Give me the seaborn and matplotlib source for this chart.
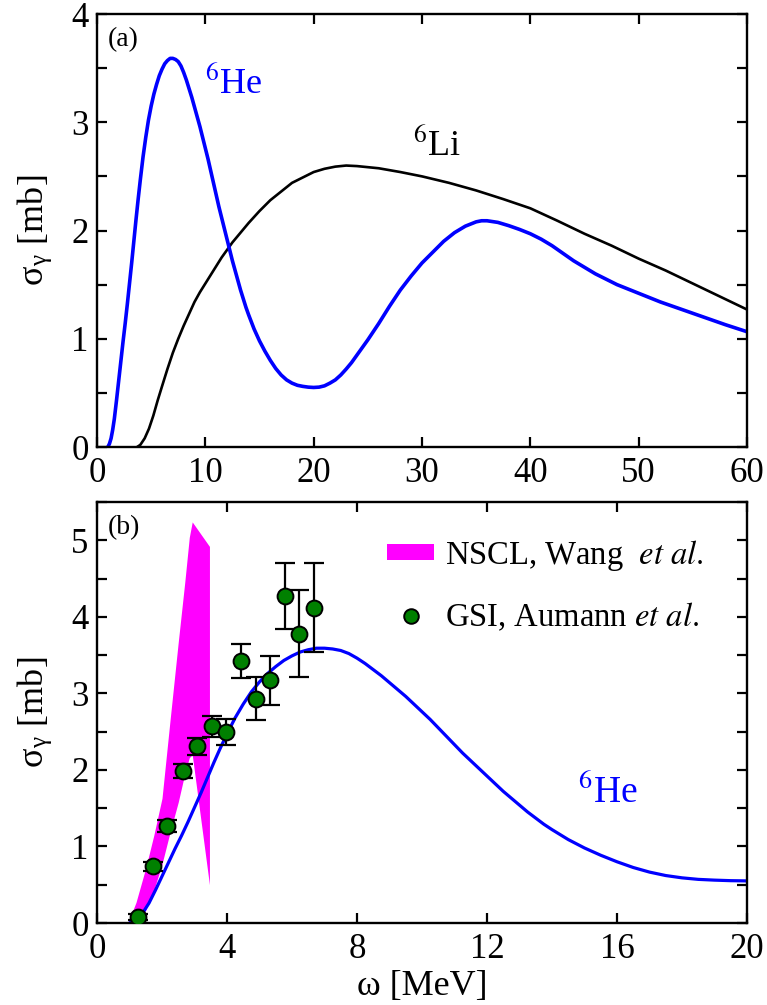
import matplotlib
matplotlib.use("Agg")
import matplotlib.pyplot as plt
import seaborn as sns
from matplotlib.patches import Patch
from matplotlib.lines import Line2D
from matplotlib.ticker import MultipleLocator

# ---- photo-absorption cross sections (mb) vs excitation energy (MeV) ----
he6_omega = [1.0, 1.15, 1.3, 1.45, 1.6, 1.8, 2.0, 2.2, 2.4, 2.6, 2.8, 3.0, 3.2, 3.4,
             3.6, 3.8, 4.0, 4.25, 4.5, 4.75, 5.0, 5.25, 5.5, 5.75, 6.0, 6.25, 6.5,
             6.75, 7.0, 7.25, 7.5, 7.75, 8.0, 8.25, 8.5, 8.75, 9.0, 9.25, 9.5,
             9.75, 10.0, 10.25, 10.5, 10.75, 11.0, 11.25, 11.5, 11.75, 12.0, 12.25,
             12.5, 12.75, 13.0, 13.25, 13.5, 13.75, 14.0, 14.5, 15.0, 15.5, 16.0,
             16.5, 17.0, 17.5, 18.0, 18.5, 19.0, 19.5, 20.0, 20.5, 21.0, 21.5,
             22.0, 22.5, 23.0, 23.5, 24.0, 24.5, 25.0, 25.5, 26.0, 26.5, 27.0,
             27.5, 28.0, 29.0, 30.0, 31.0, 32.0, 33.0, 34.0, 35.0, 35.5, 36.0,
             37.0, 38.0, 39.0, 40.0, 41.0, 42.0, 43.0, 44.0, 45.0, 46.0, 47.0,
             48.0, 49.0, 50.0, 52.0, 54.0, 56.0, 58.0, 60.0]
he6_sigma = [0.00, 0.03, 0.08, 0.16, 0.26, 0.43, 0.61, 0.79, 0.97, 1.14, 1.32, 1.51,
             1.70, 1.90, 2.10, 2.29, 2.47, 2.68, 2.86, 3.02, 3.15, 3.26, 3.35, 3.43,
             3.49, 3.54, 3.57, 3.59, 3.59, 3.58, 3.56, 3.52, 3.46, 3.39, 3.31, 3.23,
             3.14, 3.05, 2.96, 2.86, 2.76, 2.66, 2.55, 2.44, 2.33, 2.22, 2.12, 2.02,
             1.92, 1.82, 1.72, 1.63, 1.54, 1.45, 1.37, 1.29, 1.22, 1.09, 0.98, 0.885,
             0.80, 0.725, 0.665, 0.62, 0.59, 0.57, 0.56, 0.553, 0.55, 0.553, 0.565,
             0.59, 0.62, 0.665, 0.72, 0.78, 0.85, 0.92, 0.99, 1.065, 1.14, 1.22,
             1.30, 1.375, 1.45, 1.58, 1.70, 1.80, 1.90, 1.98, 2.04, 2.08, 2.09,
             2.09, 2.075, 2.045, 2.01, 1.97, 1.92, 1.86, 1.79, 1.72, 1.66, 1.60,
             1.55, 1.50, 1.46, 1.42, 1.34, 1.27, 1.20, 1.13, 1.065]

li6_omega = [3.7, 4.0, 4.4, 4.8, 5.2, 5.6, 6.0, 6.5, 7.0, 7.5, 8.0, 8.5, 9.0, 9.5,
             10.0, 10.5, 11.0, 11.5, 12.0, 12.5, 13.0, 13.5, 14.0, 15.0, 16.0,
             17.0, 18.0, 19.0, 20.0, 21.0, 22.0, 23.0, 24.0, 25.0, 26.0, 28.0,
             30.0, 32.5, 35.0, 37.5, 40.0, 42.5, 45.0, 47.5, 50.0, 52.5, 55.0,
             57.5, 60.0]
li6_sigma = [0.00, 0.02, 0.08, 0.17, 0.29, 0.43, 0.56, 0.72, 0.87, 1.00, 1.12,
             1.23, 1.34, 1.43, 1.51, 1.59, 1.67, 1.75, 1.82, 1.89, 1.95, 2.01,
             2.07, 2.18, 2.28, 2.36, 2.44, 2.49, 2.54, 2.57, 2.59, 2.60, 2.595,
             2.585, 2.575, 2.54, 2.50, 2.44, 2.37, 2.29, 2.205, 2.09, 1.97, 1.86,
             1.74, 1.63, 1.51, 1.39, 1.27]

# NSCL (Wang et al.) band: lower / upper bounds
nscl_omega = [0.95, 1.2, 1.5, 1.75, 2.0, 2.25, 2.5, 2.7, 2.84, 2.93, 3.46]
nscl_lower = [0.0, 0.0, 0.17, 0.43, 0.77, 1.19, 1.58, 1.95, 2.16, 2.20, 0.50]
nscl_upper = [0.0, 0.27, 0.72, 1.15, 1.63, 2.66, 3.67, 4.45, 5.04, 5.24, 4.92]

# GSI (Aumann et al.) data points
gsi_omega = [1.27, 1.73, 2.16, 2.64, 3.09, 3.54, 3.97, 4.43, 4.88, 5.32, 5.78, 6.23, 6.68]
gsi_sigma = [0.08, 0.74, 1.27, 1.99, 2.31, 2.57, 2.50, 3.42, 2.93, 3.17, 4.27, 3.78, 4.12]
gsi_err = [0.04, 0.06, 0.08, 0.09, 0.11, 0.14, 0.17, 0.22, 0.28, 0.32, 0.43, 0.57, 0.58]

BLUE = "#0000ff"
MAGENTA = "#ff00ff"
GREEN = "#008000"

sns.set_theme(style="ticks")
plt.rcParams.update({
    "font.family": ["Liberation Serif", "DejaVu Serif"],
    "mathtext.fontset": "stix",
    "axes.linewidth": 1.7,
    "axes.edgecolor": "black",
    "text.color": "black",
    "axes.labelcolor": "black",
    "xtick.color": "black",
    "ytick.color": "black",
})

FS_TICK = 25
FS_LABEL = 26

fig = plt.figure(figsize=(7.67, 10.05), dpi=100)
W, H = 767, 1005
ax_a = fig.add_axes([97 / W, 1 - 447 / H, 650 / W, 433 / H])
ax_b = fig.add_axes([97 / W, 1 - 923 / H, 650 / W, 421 / H])


def style_axes(ax, xmajor):
    ax.xaxis.set_major_locator(MultipleLocator(xmajor))
    ax.yaxis.set_major_locator(MultipleLocator(1))
    ax.yaxis.set_minor_locator(MultipleLocator(0.5))
    ax.tick_params(which="both", direction="in", top=True, right=True,
                   length=7.5, width=1.6, labelsize=FS_TICK, pad=6)
    ax.tick_params(axis="x", pad=7)
    for s in ax.spines.values():
        s.set_visible(True)
        s.set_linewidth(1.7)
    ax.set_ylabel("σ$_{\\mathregular{γ}}$ [mb]", fontsize=FS_LABEL, labelpad=12)


# ---- panel (a) ----
sns.lineplot(x=li6_omega, y=li6_sigma, ax=ax_a, color="black", lw=1.9,
             estimator=None, sort=False)
sns.lineplot(x=he6_omega, y=he6_sigma, ax=ax_a, color=BLUE, lw=2.6,
             estimator=None, sort=False)
ax_a.set_xlim(0, 60)
ax_a.set_ylim(0, 4)
style_axes(ax_a, 10)
ax_a.text(9.97, 3.27, r"$^{6}$He", color=BLUE, fontsize=26, ha="left", va="baseline")
ax_a.text(29.2, 2.70, r"$^{6}$Li", color="black", fontsize=26, ha="left", va="baseline")
ax_a.text(0.016, 0.94, "(a)", transform=ax_a.transAxes, fontsize=20,
          ha="left", va="center")

# ---- panel (b) ----
ax_b.fill_between(nscl_omega, nscl_lower, nscl_upper, color=MAGENTA, lw=0, zorder=1)
sns.lineplot(x=he6_omega, y=he6_sigma, ax=ax_b, color=BLUE, lw=2.3,
             estimator=None, sort=False, zorder=2)
ax_b.errorbar(gsi_omega, gsi_sigma, yerr=gsi_err, fmt="none", ecolor="black",
              elinewidth=1.6, capsize=7, capthick=1.6, zorder=3)
sns.scatterplot(x=gsi_omega, y=gsi_sigma, ax=ax_b, color=GREEN, s=130,
                edgecolor="black", linewidth=1.4, zorder=4, legend=False)
ax_b.set_xlim(0, 20)
ax_b.set_ylim(0, 5.5)
style_axes(ax_b, 4)
ax_b.set_xlabel("ω [MeV]", fontsize=FS_LABEL, labelpad=3)
ax_b.text(14.8, 1.57, r"$^{6}$He", color=BLUE, fontsize=27, ha="left", va="baseline")
ax_b.text(0.016, 0.94, "(b)", transform=ax_b.transAxes, fontsize=20,
          ha="left", va="center")

handles = [
    Patch(facecolor=MAGENTA, edgecolor="none"),
    Line2D([], [], ls="none", marker="o", markersize=10.5, markerfacecolor=GREEN,
           markeredgecolor="black", markeredgewidth=1.4),
]
labels = [r"NSCL, Wang  $\mathit{et\ al.}$", r"GSI, Aumann $\mathit{et\ al.}$"]
ax_b.legend(handles, labels, loc="upper left", bbox_to_anchor=(0.446, 0.915),
            frameon=False, fontsize=23.5, borderpad=0, borderaxespad=0,
            handlelength=1.45, handleheight=0.36, handletextpad=0.33,
            labelspacing=0.85)

fig.savefig("out.png", dpi=100)
